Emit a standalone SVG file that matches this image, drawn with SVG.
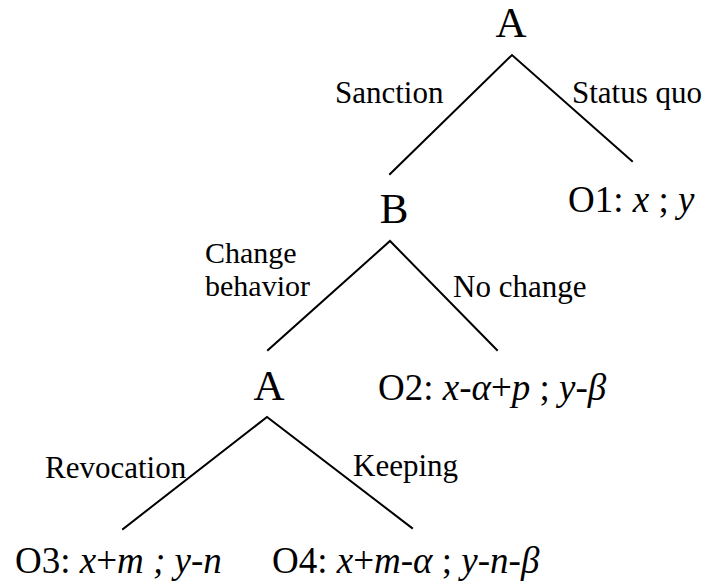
<svg xmlns="http://www.w3.org/2000/svg" width="707" height="588" viewBox="0 0 707 588">
<style>
text { font-family: "Liberation Serif", "Times New Roman", serif; fill: #000; }
.node { font-size: 43px; text-anchor: middle; }
.lbl { font-size: 31px; }
.lbl2 { font-size: 30px; }
.out { font-size: 37px; }
.it { font-style: italic; }
.edge { stroke: #000; stroke-width: 2; fill: none; stroke-linecap: square; }
</style>
<rect width="707" height="588" fill="#fff"/>
<g id="connectors">
  <polyline class="edge" points="390,174 512,55 632,161"/>
  <polyline class="edge" points="268,350 390,241 497,350"/>
  <polyline class="edge" points="123,529 267,417 412,528"/>
</g>
<g id="edge-labels">
  <text class="lbl" x="335" y="103">Sanction</text>
  <text class="lbl" x="572" y="103">Status quo</text>
  <text class="lbl2" x="205" y="263">Change</text>
  <text class="lbl2" x="205" y="296">behavior</text>
  <text class="lbl" x="453" y="297">No change</text>
  <text class="lbl" x="45" y="478">Revocation</text>
  <text class="lbl" x="353" y="476">Keeping</text>
</g>
<g id="node-A1"><text class="node" x="511" y="37">A</text></g>
<g id="node-B"><text class="node" x="394" y="223">B</text></g>
<g id="node-A2"><text class="node" x="269" y="400">A</text></g>
<g id="node-O1"><text class="out" x="568" y="212">O1: <tspan class="it">x</tspan> ; <tspan class="it">y</tspan></text></g>
<g id="node-O2"><text class="out" x="378" y="400">O2: <tspan class="it">x-α</tspan>+<tspan class="it">p</tspan> ; <tspan class="it">y-β</tspan></text></g>
<g id="node-O3"><text class="out" x="15" y="573">O3: <tspan class="it">x</tspan>+<tspan class="it">m ; y-n</tspan></text></g>
<g id="node-O4"><text class="out" x="272" y="573">O4: <tspan class="it">x</tspan>+<tspan class="it">m-α</tspan> ; <tspan class="it">y-n-β</tspan></text></g>
</svg>
